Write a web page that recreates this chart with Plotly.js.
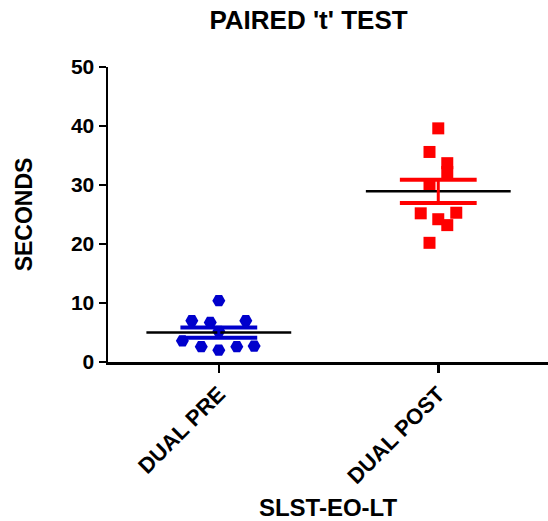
<!DOCTYPE html>
<html>
<head>
<meta charset="utf-8">
<script src="https://cdn.plot.ly/plotly-3.0.1.min.js"></script>
<style>html,body{margin:0;padding:0;background:#fff;}</style>
</head>
<body>
<div id="chart" style="width:548px;height:521px;"></div>
<script>
// Data
var categories = ["DUAL PRE", "DUAL POST"];
var preValues  = [10.4, 7.0, 6.7, 7.0, 3.6, 2.6, 2.0, 2.6, 2.7, 5.2];
var preJitter  = [0.0, -0.123, -0.039, 0.123, -0.166, -0.08, 0.0, 0.082, 0.161, 0.0];
var postValues = [39.6, 35.6, 33.7, 32.2, 30.0, 25.2, 24.2, 23.2, 25.3, 20.2];
var postJitter = [0.0, -0.04, 0.041, 0.041, -0.04, -0.08, 0.0, 0.041, 0.082, -0.04];

function mean(a){return a.reduce(function(s,v){return s+v;},0)/a.length;}
function sem(a){var m=mean(a);var ss=a.reduce(function(s,v){return s+(v-m)*(v-m);},0);return Math.sqrt(ss/(a.length-1))/Math.sqrt(a.length);}

var groups = [
  {vals: preValues, jit: preJitter, color: "#0000CC", symbol: "hexagon2", size: 13},
  {vals: postValues, jit: postJitter, color: "#FF0000", symbol: "square", size: 12}
];

var traces = [];
var shapes = [];
groups.forEach(function(g, i){
  traces.push({
    type: "scatter", mode: "markers",
    x: g.vals.map(function(v,k){return i + g.jit[k];}),
    y: g.vals,
    marker: {color: g.color, symbol: g.symbol, size: g.size, line: {width: 0}},
    hoverinfo: "y", showlegend: false
  });
  var m = mean(g.vals), s = sem(g.vals);
  shapes.push({type:"line", xref:"x", yref:"y", x0:i-0.33, x1:i+0.33, y0:m, y1:m, line:{color:"#000", width:2.5}, layer:"above"});
  shapes.push({type:"line", xref:"x", yref:"y", x0:i-0.175, x1:i+0.175, y0:m+s, y1:m+s, line:{color:g.color, width:4}, layer:"above"});
  shapes.push({type:"line", xref:"x", yref:"y", x0:i-0.175, x1:i+0.175, y0:m-s, y1:m-s, line:{color:g.color, width:4}, layer:"above"});
  shapes.push({type:"line", xref:"x", yref:"y", x0:i, x1:i, y0:m-s, y1:m+s, line:{color:g.color, width:3}, layer:"above"});
});

var fam = "Liberation Sans, Arial, sans-serif";

var layout = {
  width: 548, height: 521,
  margin: {l:108, r:0, t:67, b:159},
  paper_bgcolor: "#fff", plot_bgcolor: "#fff",
  font: {family: fam, color: "#000"},
  title: {text: "<b>PAIRED 't' TEST</b>", font: {family: fam, size: 26, color: "#000"},
          x: 0.563, xref: "container", xanchor: "center", y: 0.962, yref: "container", yanchor: "middle"},
  xaxis: {
    range: [-0.505, 1.5],
    tickmode: "array", tickvals: [0, 1],
    ticktext: categories.map(function(c){return "<b>"+c+"</b>";}),
    tickangle: -45,
    tickfont: {family: fam, size: 22, color: "#000"},
    ticks: "outside", ticklen: 8, tickwidth: 2.5, tickcolor: "#000",
    showline: true, linecolor: "#000", linewidth: 2.5,
    showgrid: false, zeroline: false,
    title: {text: "<b>SLST-EO-LT</b>", font: {family: fam, size: 24, color: "#000"}, standoff: 12}
  },
  yaxis: {
    range: [0, 50], dtick: 10, tick0: 0,
    tickfont: {family: fam, size: 21, color: "#000"},
    ticks: "outside", ticklen: 7, tickwidth: 2.5, tickcolor: "#000",
    showline: true, linecolor: "#000", linewidth: 2.5,
    showgrid: false, zeroline: false,
    tickprefix: "<b>", ticksuffix: "</b>",
    title: {text: "<b>SECONDS</b>", font: {family: fam, size: 23, color: "#000"}, standoff: 32}
  },
  shapes: shapes
};

Plotly.newPlot("chart", traces, layout, {displayModeBar: false, staticPlot: true});
</script>
</body>
</html>
